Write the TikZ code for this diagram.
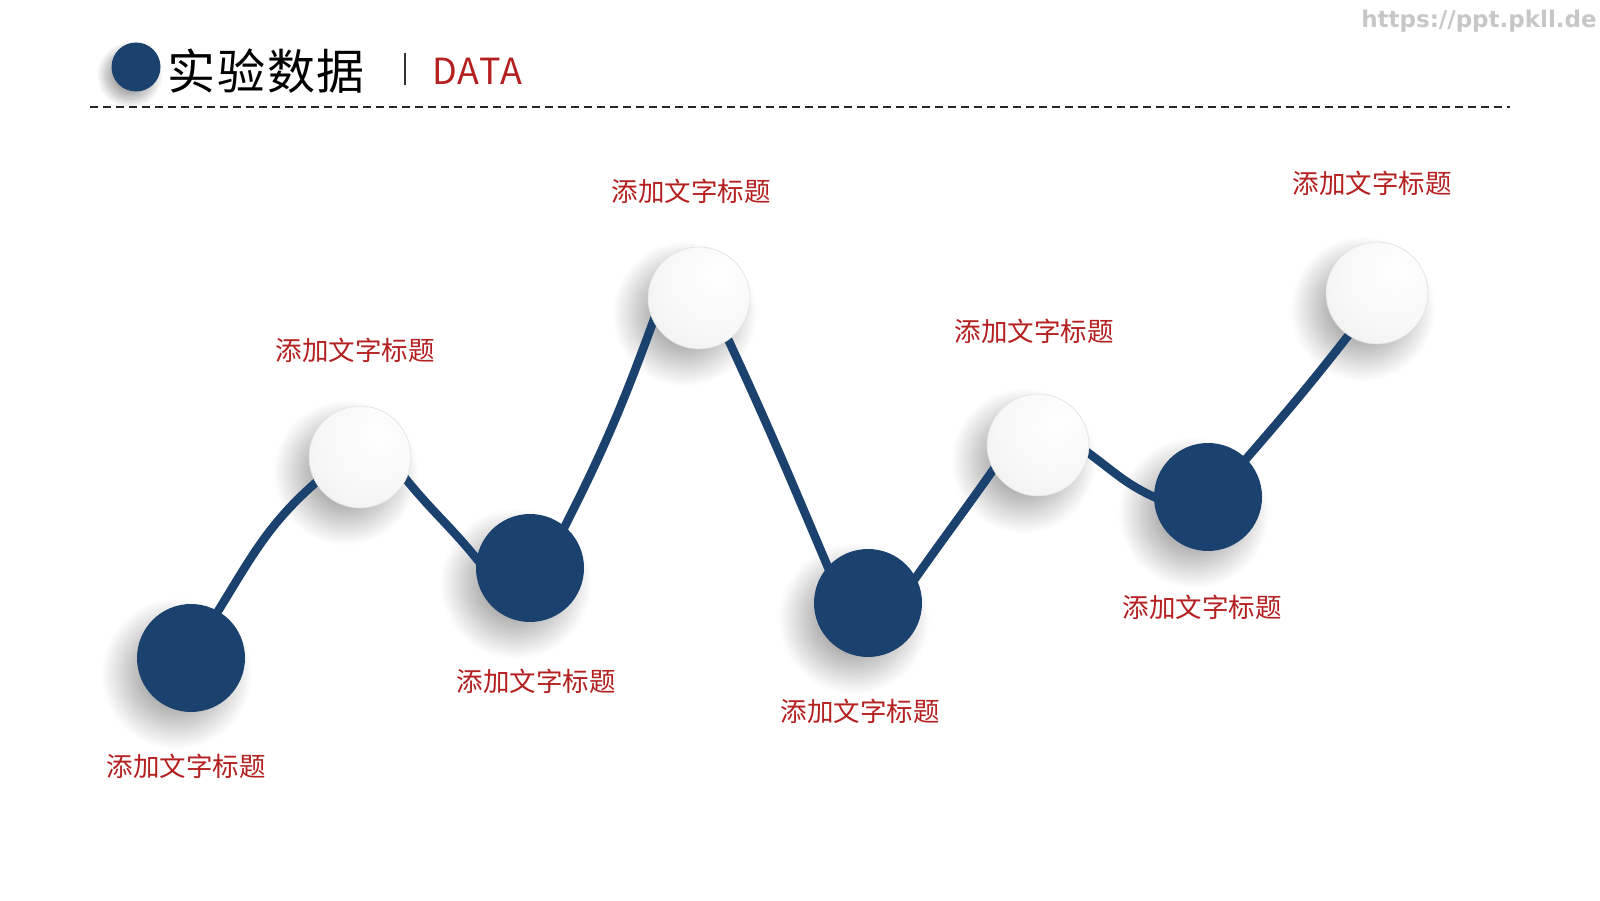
\documentclass[tikz,border=0pt]{standalone}
\usepackage{fontspec}
\setmainfont{Noto Sans CJK SC}
\newfontfamily\wmfont{DejaVu Sans}
\usetikzlibrary{shadows.blur}
\definecolor{navy}{HTML}{1B416E}
\definecolor{redtxt}{HTML}{B41F1F}
\pgfdeclareradialshading{wball}{\pgfpoint{10bp}{12bp}}{color(0bp)=(white); color(25bp)=(white!97!black); color(45bp)=(white!93!black); color(56bp)=(white!88!black); color(64bp)=(white!80!black); color(80bp)=(white!80!black)}
\pgfdeclarelayer{bg}
\pgfdeclarelayer{shade}
\pgfdeclarelayer{lines}
\pgfsetlayers{bg,shade,lines,main}
\begin{document}
\begin{tikzpicture}[x=1pt,y=1pt,
  bluedot/.style={circle, fill=navy, minimum size=108pt, inner sep=0pt},
  whitedot/.style={circle, shade, shading=wball, draw=black!12, line width=0.6pt, minimum size=102pt, inner sep=0pt},
  conn/.style={draw=navy, line width=8.5pt, shorten <=-10pt, shorten >=-10pt},
  lbl/.style={text=redtxt, font=\fontsize{26.5}{30}\selectfont, inner sep=0pt},
  sh/.style={blur shadow={shadow xshift=-14pt, shadow yshift=-16pt, shadow blur radius=22pt, shadow blur steps=30, shadow opacity=32}},
  shsmall/.style={blur shadow={shadow xshift=-6pt, shadow yshift=-8pt, shadow blur radius=9pt, shadow blur steps=20, shadow opacity=35}}]
\useasboundingbox (0,0) rectangle (1600,900);
\begin{pgfonlayer}{bg}
\fill[white] (0,0) rectangle (1600,900);
\end{pgfonlayer}

% header
\node[circle, fill=navy, minimum size=49pt, inner sep=0pt] (hd) at (136,833) {};
\node[font=\fontsize{48}{52}\selectfont\addfontfeature{LetterSpace=4}, anchor=west, inner sep=0pt] (ht) at (167,829) {实验数据};
\coordinate (bt) at (405,847);
\coordinate (bb) at (405,815);
\draw[line width=2pt, black!80] (bt) -- (bb);
\node[text=redtxt, font=\fontsize{36}{40}\selectfont\addfontfeature{LetterSpace=4}, anchor=west, inner sep=0pt] (hdata) at (432,829) {DATA};
\coordinate (dl) at (90,793);
\coordinate (dr) at (1510,793);
\draw[dash pattern=on 8pt off 5pt, line width=1.6pt, black!85] (dl) -- (dr);
\node[text=black!22, font=\wmfont\bfseries\fontsize{23}{25}\selectfont, inner sep=0pt] (wm) at (1479,879) {https://ppt.pkll.de};

% circles
\node[bluedot] (b1) at (191,242) {};
\node[whitedot] (w1) at (360,443) {};
\node[bluedot] (b2) at (530,332) {};
\node[whitedot] (w2) at (699,602) {};
\node[bluedot] (b3) at (868,297) {};
\node[whitedot] (w3) at (1038,455) {};
\node[bluedot] (b4) at (1208,403) {};
\node[whitedot] (w4) at (1377,607) {};

\begin{pgfonlayer}{shade}
% warm-up shadows, hidden beneath the blue dot b2
\path[shsmall] ([shift={(6pt,6pt)}]b2.center) circle (1pt);
\path[sh] ([shift={(8pt,8pt)}]b2.center) circle (1pt);
% real shadows
\path[shsmall] (hd.center) circle (24.5pt);
\path[sh] (b1.center) circle (54pt);
\path[sh] (w1.center) circle (51pt);
\path[sh] (b2.center) circle (54pt);
\path[sh] (w2.center) circle (51pt);
\path[sh] (b3.center) circle (54pt);
\path[sh] (w3.center) circle (51pt);
\path[sh] (b4.center) circle (54pt);
\path[sh] (w4.center) circle (51pt);
\end{pgfonlayer}

\begin{pgfonlayer}{lines}
\draw[conn] (b1.60) to[out=58,in=-140] (w1.210);
\draw[conn] (w1.-26) to[out=-52,in=128] (b2.170);
\draw[conn] (b2.50) to[out=63,in=-110] (w2.207);
\draw[conn] (w2.-55) to[out=-65,in=113] (b3.138);
\draw[conn] (b3.28) to[out=55,in=-125] (w3.209);
\draw[conn] (w3.-9) to[out=-35,in=158] (b4.180);
\draw[conn] (b4.45) to[out=49,in=-128] (w4.236);
\end{pgfonlayer}

% labels
\node[lbl] (t1) at (186,134) {添加文字标题};
\node[lbl] (t2) at (355,550) {添加文字标题};
\node[lbl] (t3) at (536,219) {添加文字标题};
\node[lbl] (t4) at (691,709) {添加文字标题};
\node[lbl] (t5) at (860,189) {添加文字标题};
\node[lbl] (t6) at (1034,569) {添加文字标题};
\node[lbl] (t7) at (1202,293) {添加文字标题};
\node[lbl] (t8) at (1372,717) {添加文字标题};
\end{tikzpicture}
\end{document}
